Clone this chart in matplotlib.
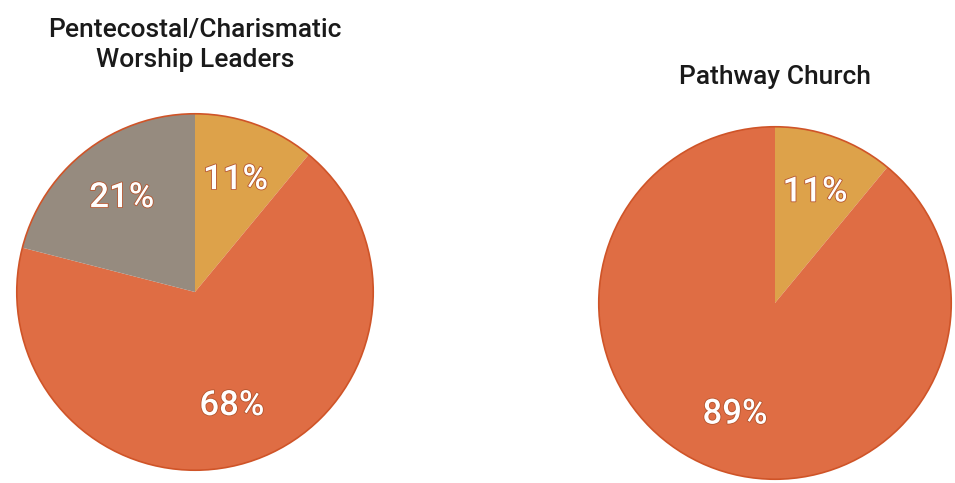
import matplotlib.pyplot as plt
import matplotlib.patheffects as pe
from matplotlib.patches import Circle

plt.rcParams['font.family'] = ['Roboto', 'DejaVu Sans']

# data
left_title = "Pentecostal/Charismatic\nWorship Leaders"
left_values = [11, 68, 21]
left_colors = ["#DDA24A", "#DF6D44", "#968B7F"]

right_title = "Pathway Church"
right_values = [11, 89]
right_colors = ["#DDA24A", "#DF6D44"]

W, H = 955, 483
fig = plt.figure(figsize=(W / 100, H / 100), dpi=100)


def add_pie(cx, cy, r, values, colors, title, title_y):
    ax = fig.add_axes([(cx - r) / W, (H - cy - r) / H, 2 * r / W, 2 * r / H])
    wedges, texts, autotexts = ax.pie(
        values, colors=colors, startangle=90, counterclock=False,
        autopct="%d%%", pctdistance=0.67,
        wedgeprops=dict(linewidth=0),
        textprops=dict(color="white", fontsize=25, fontweight="medium"),
    )
    for t in autotexts:
        t.set_path_effects([pe.withStroke(linewidth=1.2, foreground="#B5552E")])
    ax.add_patch(Circle((0, 0), 1.0, fill=False, edgecolor="#CF5428", linewidth=1.2))
    ax.set_xlim(-1.01, 1.01)
    ax.set_ylim(-1.01, 1.01)
    ax.set_aspect("equal")
    ax.axis("off")
    fig.text(cx / W, 1 - title_y / H, title, ha="center", va="center",
             fontsize=19, fontweight="medium", color="#1a1a1a", linespacing=1.35)


add_pie(195, 292, 180, left_values, left_colors, left_title, 45)
add_pie(775, 303, 178, right_values, right_colors, right_title, 77)

fig.savefig("out.png", dpi=100, facecolor="white")
